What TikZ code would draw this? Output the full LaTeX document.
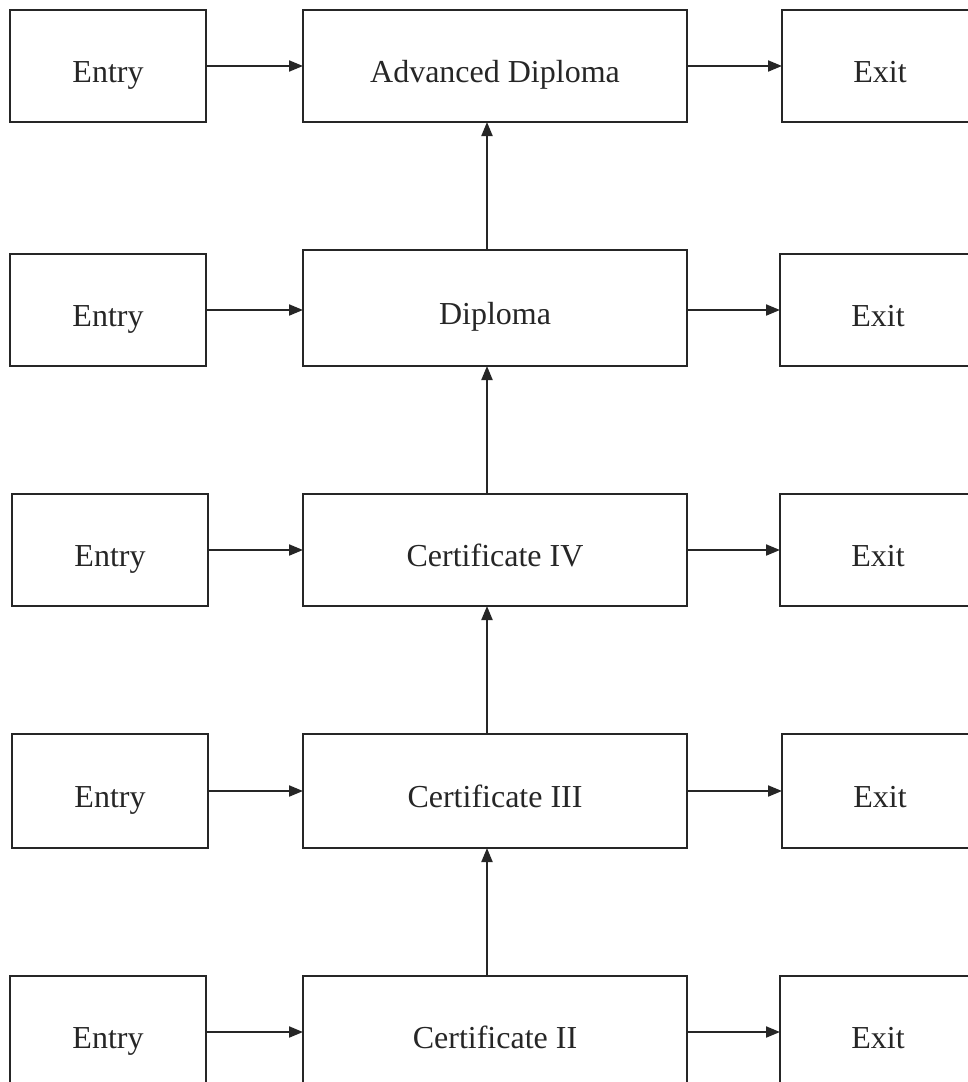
\documentclass[tikz,border=0pt]{standalone}
\usepackage{fontspec}
\setmainfont{Liberation Serif}
\usetikzlibrary{arrows.meta}
\begin{document}
\begin{tikzpicture}[x=1pt,y=-1pt,
  box/.style={draw=black!85, line width=2pt, fill=white, inner sep=0pt, outer sep=0pt,
    minimum height=112pt, text height=32pt, text depth=0pt,
    font=\fontsize{32pt}{36pt}\selectfont, text=black!85},
  sidebox/.style={box, minimum width=196pt},
  midbox/.style={box, minimum width=384pt},
  arr/.style={draw=black!85, line width=2pt, -{Triangle[length=14pt,width=11pt]}}]
\useasboundingbox (0,0) rectangle (968,1082);
\clip (0,0) rectangle (968,1082);
\coordinate (vx) at (487,0);
% row 1
\node[sidebox] (e1) at (108,66) {Entry};
\node[midbox]  (c1) at (495,66) {Advanced Diploma};
\node[sidebox] (x1) at (880,66) {Exit};
% row 2
\node[sidebox] (e2) at (108,310) {Entry};
\node[midbox, minimum height=116pt] (c2) at (495,308) {Diploma};
\node[sidebox] (x2) at (878,310) {Exit};
% row 3
\node[sidebox] (e3) at (110,550) {Entry};
\node[midbox]  (c3) at (495,550) {Certificate IV};
\node[sidebox] (x3) at (878,550) {Exit};
% row 4
\node[sidebox, minimum height=114pt] (e4) at (110,791) {Entry};
\node[midbox, minimum height=114pt]  (c4) at (495,791) {Certificate III};
\node[sidebox, minimum height=114pt] (x4) at (880,791) {Exit};
% row 5
\node[sidebox] (e5) at (108,1032) {Entry};
\node[midbox]  (c5) at (495,1032) {Certificate II};
\node[sidebox] (x5) at (878,1032) {Exit};
% horizontal arrows
\foreach \i in {1,...,5}{
  \draw[arr] (e\i.east) -- (e\i.east -| c\i.west);
  \draw[arr] (x\i.west -| c\i.east) -- (x\i.west);
}
% vertical arrows
\draw[arr] (c5.north -| vx) -- (c4.south -| vx);
\draw[arr] (c4.north -| vx) -- (c3.south -| vx);
\draw[arr] (c3.north -| vx) -- (c2.south -| vx);
\draw[arr] (c2.north -| vx) -- (c1.south -| vx);
\end{tikzpicture}
\end{document}
